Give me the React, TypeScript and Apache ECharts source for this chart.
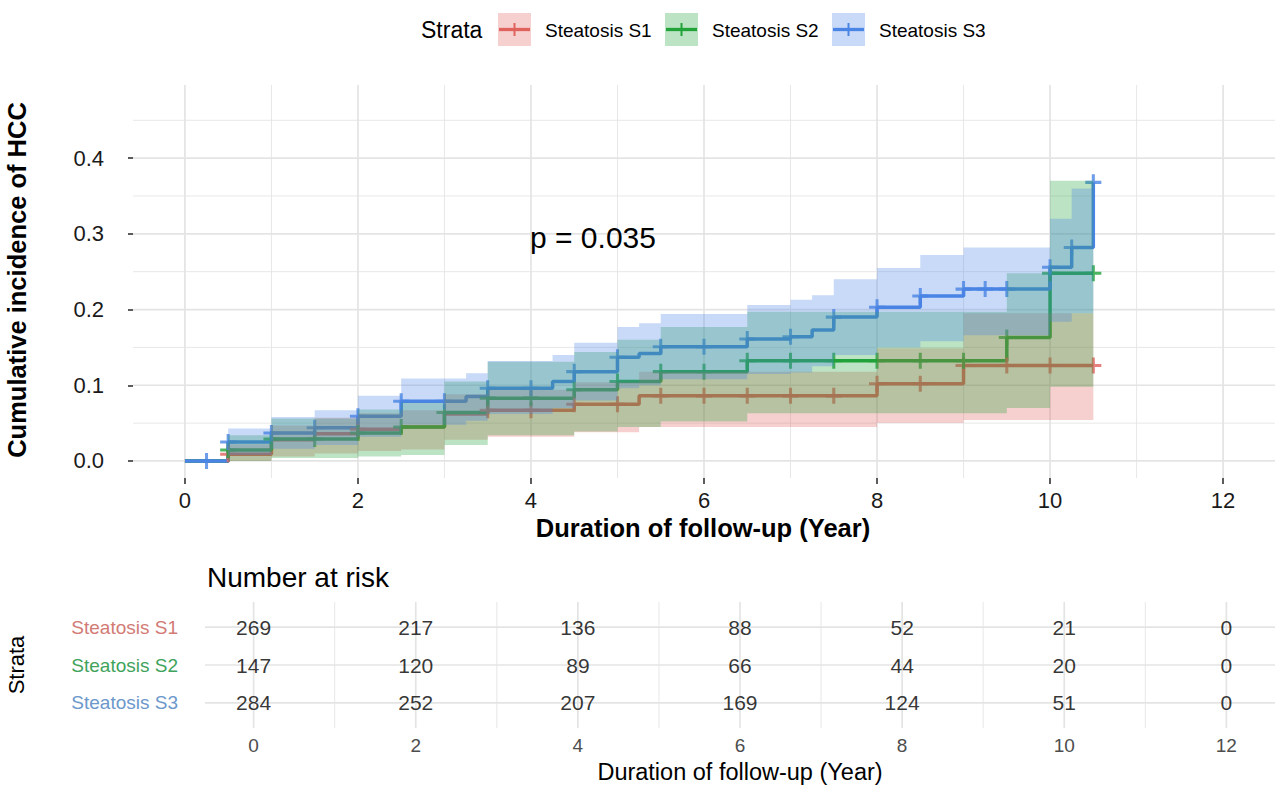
import React, { useEffect, useRef } from "react";
import * as echarts from "echarts";

const FONT = '"Liberation Sans", Arial, Helvetica, sans-serif';

const strataNames = ["Steatosis S1", "Steatosis S2", "Steatosis S3"];
const strataColors = ["#E0625C", "#22A33A", "#4A84E4"];
const tableLabelColors = ["#D27B75", "#3FA35C", "#6C98CC"];

// Steatosis S1 (step start times, estimate, lower / upper CI)
const s1Times = [0, 0.5, 1.0, 1.5, 2.0, 2.5, 3.0, 3.5, 4.5, 5.25, 8.0, 9.0];
const s1Est = [0, 0.009, 0.028, 0.036, 0.042, 0.045, 0.062, 0.067, 0.075, 0.086, 0.102, 0.126];
const s1Lo = [0, 0, 0.006, 0.01, 0.013, 0.015, 0.028, 0.032, 0.038, 0.045, 0.05, 0.054];
const s1Hi = [0, 0.022, 0.047, 0.057, 0.063, 0.067, 0.088, 0.094, 0.104, 0.118, 0.149, 0.195];
const s1Censor = [0.5, 2.0, 3.5, 4.0, 4.5, 5.0, 5.5, 6.0, 6.5, 7.0, 7.5, 8.0, 8.5, 9.0, 9.5, 10.0, 10.5];

// Steatosis S2
const s2Times = [0, 0.5, 1.0, 2.0, 2.5, 3.0, 3.5, 4.5, 5.0, 5.5, 6.5, 9.5, 10.0];
const s2Est = [0, 0.0145, 0.029, 0.037, 0.045, 0.064, 0.083, 0.094, 0.105, 0.118, 0.1325, 0.163, 0.248];
const s2Lo = [0, 0, 0.004, 0.006, 0.008, 0.021, 0.034, 0.039, 0.045, 0.052, 0.063, 0.07, 0.098];
const s2Hi = [0, 0.034, 0.056, 0.068, 0.077, 0.105, 0.131, 0.144, 0.16, 0.177, 0.197, 0.248, 0.37];
const s2Censor = [0.5, 1.0, 1.5, 2.0, 2.5, 3.0, 3.5, 4.0, 4.5, 5.0, 5.5, 6.0, 6.5, 7.0, 7.5, 8.0, 8.5, 9.0, 9.5, 10.0, 10.5];

// Steatosis S3
const s3Times = [0, 0.5, 1.0, 1.5, 2.0, 2.5, 3.25, 3.5, 4.25, 4.5, 5.0, 5.25, 5.5, 6.5, 7.0, 7.25, 7.5, 8.0, 8.5, 9.0, 10.0, 10.25, 10.5];
const s3Est = [0, 0.025, 0.037, 0.044, 0.059, 0.079, 0.085, 0.096, 0.105, 0.118, 0.137, 0.142, 0.151, 0.161, 0.164, 0.173, 0.19, 0.203, 0.218, 0.227, 0.256, 0.282, 0.368];
const s3Lo = [0, 0.008, 0.016, 0.021, 0.032, 0.048, 0.053, 0.062, 0.07, 0.08, 0.096, 0.1, 0.108, 0.115, 0.117, 0.125, 0.14, 0.15, 0.158, 0.166, 0.184, 0.195, 0.2];
const s3Hi = [0, 0.043, 0.058, 0.067, 0.086, 0.109, 0.116, 0.132, 0.14, 0.156, 0.177, 0.182, 0.194, 0.206, 0.213, 0.219, 0.24, 0.255, 0.272, 0.282, 0.32, 0.36, 0.36];
const s3Censor = [0.25, 0.5, 1.0, 1.5, 2.0, 2.5, 3.0, 3.5, 4.0, 4.5, 5.0, 5.5, 6.0, 6.5, 7.0, 7.5, 8.0, 8.5, 9.0, 9.25, 9.5, 10.0, 10.25, 10.5];

const endTime = 10.5;

// Number at risk
const riskTimes = [0, 2, 4, 6, 8, 10, 12];
const riskS1 = [269, 217, 136, 88, 52, 21, 0];
const riskS2 = [147, 120, 89, 66, 44, 20, 0];
const riskS3 = [284, 252, 207, 169, 124, 51, 0];

// Axis ticks
const xTicks = [0, 2, 4, 6, 8, 10, 12];
const xMinor = [1, 3, 5, 7, 9, 11];
const yTicks = [0, 0.1, 0.2, 0.3, 0.4];
const yMinor = [0.05, 0.15, 0.25, 0.35, 0.45];
const tableRows = [1, 2, 3];

const pValueText = "p = 0.035";

const X_MIN = -0.6;
const X_MAX = 12.6;
const Y_MIN = -0.0225;
const Y_MAX = 0.4966;
const T_MIN = 0.34;
const T_MAX = 3.66;

function rgba(hex: string, a: number) {
  const n = parseInt(hex.slice(1), 16);
  return `rgba(${(n >> 16) & 255},${(n >> 8) & 255},${n & 255},${a})`;
}

function stepValue(times: number[], est: number[], t: number) {
  let v = est[0];
  for (let i = 0; i < times.length; i++) if (times[i] <= t + 1e-9) v = est[i];
  return v;
}

const CROSS = "path://M4.05,0H5.95V4.05H10V5.95H5.95V10H4.05V5.95H0V4.05H4.05Z";

function gridLineSeries(gridIndex: number, vMajor: number[], vMinor: number[], hMajor: number[], hMinor: number[], xmin: number, ymin: number) {
  const data: number[][] = [];
  vMajor.forEach((v) => data.push([v, 0, 1]));
  vMinor.forEach((v) => data.push([v, 0, 0]));
  hMajor.forEach((v) => data.push([v, 1, 1]));
  hMinor.forEach((v) => data.push([v, 1, 0]));
  return {
    type: "custom",
    xAxisIndex: gridIndex,
    yAxisIndex: gridIndex,
    silent: true,
    z: 0,
    data,
    renderItem: (params: any, api: any) => {
      const cs = params.coordSys;
      const v = api.value(0);
      const orient = api.value(1);
      const major = api.value(2) === 1;
      const style = { stroke: "#E4E4E4", lineWidth: major ? 1.7 : 0.9 };
      if (orient === 0) {
        const x = api.coord([v, ymin])[0];
        return { type: "line", shape: { x1: x, y1: cs.y, x2: x, y2: cs.y + cs.height }, style };
      }
      const y = api.coord([xmin, v])[1];
      return { type: "line", shape: { x1: cs.x, y1: y, x2: cs.x + cs.width, y2: y }, style };
    },
  };
}

function bandSeries(name: string, times: number[], lo: number[], hi: number[], color: string) {
  return {
    type: "custom",
    name,
    xAxisIndex: 0,
    yAxisIndex: 0,
    silent: true,
    z: 5,
    data: [[0, 0]],
    renderItem: (_params: any, api: any) => {
      const n = times.length;
      const pts: number[][] = [];
      for (let i = 0; i < n; i++) {
        const t0 = times[i];
        const t1 = i < n - 1 ? times[i + 1] : endTime;
        pts.push(api.coord([t0, hi[i]]), api.coord([t1, hi[i]]));
      }
      for (let i = n - 1; i >= 0; i--) {
        const t0 = times[i];
        const t1 = i < n - 1 ? times[i + 1] : endTime;
        pts.push(api.coord([t1, lo[i]]), api.coord([t0, lo[i]]));
      }
      return { type: "polygon", shape: { points: pts }, style: { fill: rgba(color, 0.3) } };
    },
  };
}

function lineSeries(name: string, times: number[], est: number[], color: string) {
  const data = times.map((t, i) => [t, est[i]]);
  data.push([endTime, est[est.length - 1]]);
  return {
    type: "line",
    name,
    xAxisIndex: 0,
    yAxisIndex: 0,
    step: "end",
    showSymbol: false,
    symbol: "none",
    z: 2,
    lineStyle: { color, width: 3.5 },
    data,
  };
}

function censorSeries(name: string, censor: number[], times: number[], est: number[], color: string) {
  return {
    type: "scatter",
    name,
    xAxisIndex: 0,
    yAxisIndex: 0,
    symbol: CROSS,
    symbolSize: 16,
    z: 3,
    itemStyle: { color },
    data: censor.map((t) => [t, stepValue(times, est, t)]),
  };
}

function riskSeries(counts: number[], row: number) {
  return {
    type: "scatter",
    xAxisIndex: 1,
    yAxisIndex: 1,
    symbolSize: 1,
    z: 3,
    itemStyle: { color: "rgba(0,0,0,0)" },
    label: {
      show: true,
      position: "inside",
      formatter: (p: any) => String(p.value[2]),
      fontFamily: FONT,
      fontSize: 21,
      color: "#000000",
    },
    data: riskTimes.map((t, i) => [t, row, counts[i]]),
  };
}

function legendGraphics() {
  const items: any[] = [
    {
      type: "text",
      x: 421,
      y: 30,
      z: 100,
      style: { text: "Strata", font: `23px ${FONT}`, fill: "#000", textAlign: "left", textVerticalAlign: "middle" },
    },
  ];
  const keyX = [498, 665, 832];
  const textX = [545, 712, 879];
  strataNames.forEach((name, i) => {
    const c = strataColors[i];
    items.push({ type: "rect", z: 100, shape: { x: keyX[i], y: 13, width: 33, height: 33 }, style: { fill: rgba(c, 0.3) } });
    items.push({ type: "line", z: 101, shape: { x1: keyX[i] + 1, y1: 29.5, x2: keyX[i] + 32, y2: 29.5 }, style: { stroke: c, lineWidth: 3.3 } });
    items.push({ type: "line", z: 101, shape: { x1: keyX[i] + 16.5, y1: 23, x2: keyX[i] + 16.5, y2: 36 }, style: { stroke: c, lineWidth: 2 } });
    items.push({
      type: "text",
      x: textX[i],
      y: 30,
      z: 100,
      style: { text: name, font: `19px ${FONT}`, fill: "#000", textAlign: "left", textVerticalAlign: "middle" },
    });
  });
  return items;
}

function App() {
  const ref = useRef<HTMLDivElement>(null);
  useEffect(() => {
    if (!ref.current) return;
    const chart = echarts.init(ref.current, undefined, { renderer: "svg" });
    const rowNameByValue: Record<number, number> = { 3: 0, 2: 1, 1: 2 };
    const option: any = {
      animation: false,
      backgroundColor: "#ffffff",
      textStyle: { fontFamily: FONT },
      grid: [
        { left: 133, top: 85, width: 1142, height: 393 },
        { left: 205, top: 602, width: 1070, height: 126 },
      ],
      xAxis: [
        {
          type: "value",
          gridIndex: 0,
          min: X_MIN,
          max: X_MAX,
          axisLine: { show: false, onZero: false },
          splitLine: { show: false },
          axisTick: { show: true, customValues: xTicks, length: 6, lineStyle: { color: "#333333", width: 1.6 } },
          axisLabel: { customValues: xTicks, fontSize: 22, color: "#1A1A1A", fontFamily: FONT, margin: 11 },
        },
        {
          type: "value",
          gridIndex: 1,
          min: X_MIN,
          max: X_MAX,
          axisLine: { show: false, onZero: false },
          splitLine: { show: false },
          axisTick: { show: false },
          axisLabel: { customValues: riskTimes, fontSize: 19, color: "#4D4D4D", fontFamily: FONT, margin: 8 },
        },
      ],
      yAxis: [
        {
          type: "value",
          gridIndex: 0,
          min: Y_MIN,
          max: Y_MAX,
          axisLine: { show: false, onZero: false },
          splitLine: { show: false },
          axisTick: { show: true, customValues: yTicks, length: 5, lineStyle: { color: "#333333", width: 1.6 } },
          axisLabel: {
            customValues: yTicks,
            formatter: (v: number) => v.toFixed(1),
            fontSize: 22,
            color: "#1A1A1A",
            fontFamily: FONT,
            margin: 29,
          },
        },
        {
          type: "value",
          gridIndex: 1,
          min: T_MIN,
          max: T_MAX,
          axisLine: { show: false, onZero: false },
          splitLine: { show: false },
          axisTick: { show: false },
          axisLabel: {
            customValues: tableRows,
            margin: 27,
            formatter: (v: number) => {
              const idx = rowNameByValue[Math.round(v)];
              return `{r${idx}|${strataNames[idx]}}`;
            },
            rich: {
              r0: { color: tableLabelColors[0], fontSize: 19, fontFamily: FONT },
              r1: { color: tableLabelColors[1], fontSize: 19, fontFamily: FONT },
              r2: { color: tableLabelColors[2], fontSize: 19, fontFamily: FONT },
            },
          },
        },
      ],
      series: [
        gridLineSeries(0, xTicks, xMinor, yTicks, yMinor, X_MIN, Y_MIN),
        gridLineSeries(1, riskTimes, xMinor, tableRows, [], X_MIN, T_MIN),
        lineSeries(strataNames[0], s1Times, s1Est, strataColors[0]),
        lineSeries(strataNames[1], s2Times, s2Est, strataColors[1]),
        lineSeries(strataNames[2], s3Times, s3Est, strataColors[2]),
        censorSeries(strataNames[0], s1Censor, s1Times, s1Est, strataColors[0]),
        censorSeries(strataNames[1], s2Censor, s2Times, s2Est, strataColors[1]),
        censorSeries(strataNames[2], s3Censor, s3Times, s3Est, strataColors[2]),
        bandSeries(strataNames[0], s1Times, s1Lo, s1Hi, strataColors[0]),
        bandSeries(strataNames[1], s2Times, s2Lo, s2Hi, strataColors[1]),
        bandSeries(strataNames[2], s3Times, s3Lo, s3Hi, strataColors[2]),
        riskSeries(riskS1, 3),
        riskSeries(riskS2, 2),
        riskSeries(riskS3, 1),
      ],
      graphic: [
        ...legendGraphics(),
        {
          type: "text",
          x: 17,
          y: 280,
          z: 100,
          rotation: Math.PI / 2,
          style: {
            text: "Cumulative incidence of HCC",
            font: `bold 25.5px ${FONT}`,
            fill: "#000",
            textAlign: "center",
            textVerticalAlign: "middle",
          },
        },
        {
          type: "text",
          x: 703,
          y: 528,
          z: 100,
          style: {
            text: "Duration of follow-up (Year)",
            font: `bold 25.5px ${FONT}`,
            fill: "#000",
            textAlign: "center",
            textVerticalAlign: "middle",
          },
        },
        {
          type: "text",
          x: 530,
          y: 237,
          z: 100,
          style: { text: pValueText, font: `30px ${FONT}`, fill: "#000", textAlign: "left", textVerticalAlign: "middle" },
        },
        {
          type: "text",
          x: 207,
          y: 577,
          z: 100,
          style: { text: "Number at risk", font: `28px ${FONT}`, fill: "#000", textAlign: "left", textVerticalAlign: "middle" },
        },
        {
          type: "text",
          x: 740,
          y: 772,
          z: 100,
          style: {
            text: "Duration of follow-up (Year)",
            font: `23.5px ${FONT}`,
            fill: "#000",
            textAlign: "center",
            textVerticalAlign: "middle",
          },
        },
        {
          type: "text",
          x: 16,
          y: 665,
          z: 100,
          rotation: Math.PI / 2,
          style: { text: "Strata", font: `22px ${FONT}`, fill: "#000", textAlign: "center", textVerticalAlign: "middle" },
        },
      ],
    };
    chart.setOption(option);
    return () => chart.dispose();
  }, []);
  return (
    <div
      ref={ref}
      style={{ position: "fixed", left: 0, top: 0, width: 1280, height: 789, background: "#fff" }}
    />
  );
}

export default App;
